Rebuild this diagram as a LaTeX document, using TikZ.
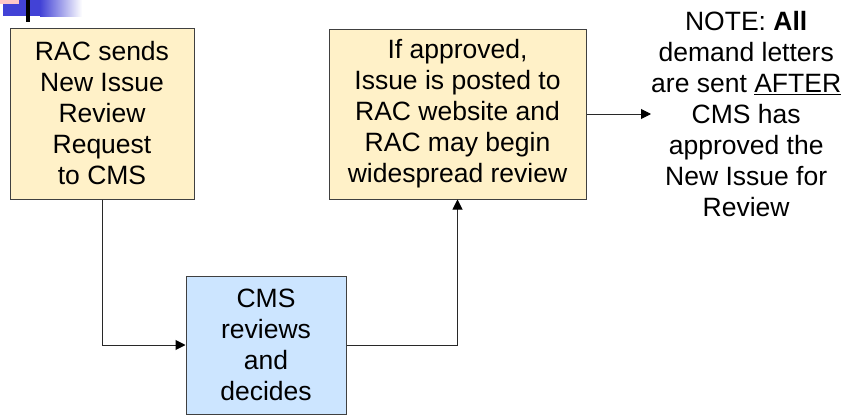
\documentclass[tikz,border=0pt]{standalone}
\usepackage{fontspec}
\setmainfont{Liberation Sans}
\usetikzlibrary{arrows.meta}
\definecolor{boxyellow}{RGB}{255,241,200}
\definecolor{boxblue}{RGB}{204,229,255}
\definecolor{edgegray}{RGB}{64,64,64}
\definecolor{linegray}{RGB}{40,40,40}
\definecolor{bulletblue}{RGB}{66,66,214}
\definecolor{bulletpink}{RGB}{255,200,200}
\tikzset{
	yellow node/.style={rectangle, draw=edgegray, line width=1pt, fill=boxyellow, align=center, inner sep=0},
	blue node/.style={rectangle, draw=edgegray, line width=1pt, fill=boxblue, align=center, inner sep=0},
	note node/.style={align=center, inner sep=0},
	flow/.style={draw=linegray, line width=1pt, -{Triangle[length=10pt,width=10pt,fill=black,color=black]}},
}

\begin{document}
\begin{tikzpicture}[x=1pt, y=-1pt, font=\fontsize{26.5}{31}\selectfont]
  \useasboundingbox (0,0) rectangle (847,415);

  % slide bullet
  \fill[bulletblue] (3,0) rectangle (40,16);
  \shade[left color=bulletblue, right color=white] (40,0) rectangle (82,16);
  \fill[bulletpink] (0,0) rectangle (19,4);
  \fill[black] (26,0) rectangle (30,22);

  \node[yellow node, minimum width=184pt, minimum height=171pt] (rac) at (102,113.5)
    {RAC sends\\New Issue\\Review\\Request\\to CMS};
  \node[yellow node, minimum width=257pt, minimum height=170pt] (post) at (457.5,114)
    {If approved,\\Issue is posted to\\RAC website and\\RAC may begin\\widespread review};
  \node[blue node, minimum width=160pt, minimum height=138pt] (cms) at (266,345)
    {CMS\\reviews\\and\\decides};
  \node[note node, anchor=west] (note) at (651,114)
    {NOTE: \textbf{All}\\demand letters\\are sent \underline{AFTER}\\CMS has\\approved the\\New Issue for\\Review};

  \draw[flow] (rac.south) |- (cms.west);
  \draw[flow] (cms.east) -| (post.south);
  \draw[flow] (post.east) -- (note.west);

\end{tikzpicture}
\end{document}
